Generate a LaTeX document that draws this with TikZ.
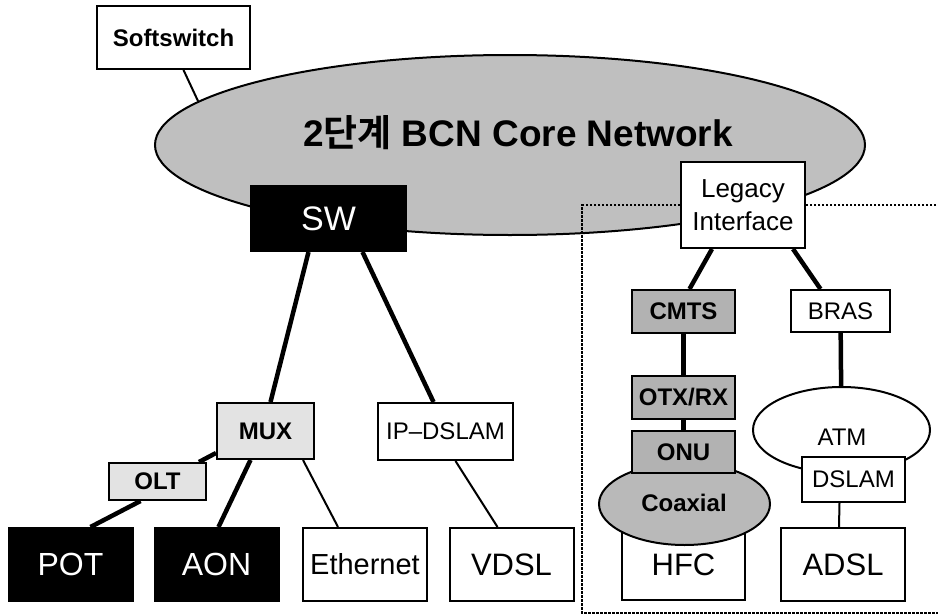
\documentclass[tikz,border=0pt]{standalone}
\usepackage{fontspec}
\setmainfont{Liberation Sans}
\newfontfamily\krfont{Noto Sans CJK KR}[BoldFont={Noto Sans CJK KR Bold}]
\usetikzlibrary{shapes.geometric, positioning, calc}
\tikzset{
  netbox/.style={
    rectangle, draw=black, line width=2pt, fill=white, inner sep=0pt,
    align=center
  },
  boxsize/.style 2 args={minimum width=#1pt, minimum height=#2pt},
  darkbox/.style={netbox, fill=black, text=white},
  lightbox/.style={netbox, fill=gray!22, font=\bfseries\fontsize{24}{28}\selectfont},
  graybox/.style={netbox, fill=gray!60, font=\bfseries\fontsize{24}{28}\selectfont},
  cloud/.style={ellipse, draw=black, line width=2pt, inner sep=0pt},
  thickedge/.style={line width=4.5pt},
  thinedge/.style={line width=2pt},
  boundary/.style={line width=2.5pt, dash pattern=on 2.5pt off 1.5pt}
}

\begin{document}
\begin{tikzpicture}[
    x=1pt, y=-1pt,
    every node/.style={font=\fontsize{24}{28}\selectfont},
    endbox/.style={netbox, boxsize={124}{73}, font=\fontsize{31}{34}\selectfont}
    ]
    \useasboundingbox (0,0) rectangle (938,616);

    % Core network
    \node[cloud, fill=gray!50, boxsize={710}{180}] (core) at (510,145) {};
    \node[font=\bfseries\fontsize{37}{40}\selectfont] (coretitle) at (518,133)
      {2{\krfont 단계} BCN Core Network};
    \node[netbox, boxsize={153}{63}, font=\bfseries\fontsize{24}{28}\selectfont] (soft) at (173.5,37.5) {Softswitch};
    \draw[thinedge] ([xshift=10pt]soft.south) -- (core.172);

    % Legacy access area
    \draw[boundary] (940,205) -- (582,205) -- (582,613) -- (940,613);

    % IP side
    \node[darkbox, boxsize={155}{65}, font=\fontsize{34}{36}\selectfont] (sw) at (328.5,218.5) {SW};
    \node[lightbox, boxsize={97}{56}] (mux) at (265.5,431) {MUX};
    \node[lightbox, boxsize={97}{37}] (olt) at (157.5,481.5) {OLT};
    \node[netbox, boxsize={135}{57}] (ipdslam) at (445.5,431.5) {IP--DSLAM};
    \node[endbox, darkbox, font=\fontsize{32}{34}\selectfont] (pot) at (70.5,564.5) {POT};
    \node[endbox, darkbox, font=\fontsize{32}{34}\selectfont] (aon) at (216.5,564.5) {AON};
    \node[endbox, font=\fontsize{29}{32}\selectfont] (ethernet) at (365,564.5) {Ethernet};
    \node[endbox] (vdsl) at (511.5,564.5) {VDSL};

    \draw[thickedge] ([xshift=-20pt]sw.south) -- ([xshift=5pt]mux.north);
    \draw[thickedge] ([xshift=34pt]sw.south) -- ([xshift=-12pt]ipdslam.north);
    \draw[thickedge] ([yshift=7pt]mux.south west) -- ([xshift=-8pt]olt.north east);
    \draw[thickedge] ([xshift=-17pt]olt.south) -- ([xshift=20pt]pot.north);
    \draw[thickedge] ([xshift=-15pt]mux.south) -- ([xshift=2pt]aon.north);
    \draw[thinedge] ([xshift=-12pt]mux.south east) -- ([xshift=-27pt]ethernet.north);
    \draw[thinedge] ([xshift=10pt]ipdslam.south) -- ([xshift=-14pt]vdsl.north);

    % Legacy side
    \node[netbox, boxsize={124}{86}, font=\fontsize{26}{33}\selectfont] (legacy) at (743,205) {Legacy\\Interface};
    \node[graybox, boxsize={103}{43}] (cmts) at (683.5,311.5) {CMTS};
    \node[graybox, boxsize={103}{43}] (otxrx) at (683.5,397.5) {OTX/RX};
    \node[netbox, boxsize={123}{70}, font=\fontsize{31}{34}\selectfont] (hfc) at (683.5,565) {HFC};
    \node[cloud, fill=gray!55, boxsize={171}{82}] (coax) at (684.5,504) {};
    \node[graybox, boxsize={103}{42}] (onu) at (683.5,452) {ONU};
    \node[font=\bfseries\fontsize{24}{28}\selectfont] (coaxlabel) at (684,503) {Coaxial};
    \node[netbox, boxsize={99}{42}] (bras) at (840.5,311) {BRAS};
    \node[cloud, fill=white, boxsize={177}{86}] (atm) at (841.5,430) {};
    \node (atmlabel) at (842,437) {ATM};
    \node[netbox, boxsize={103}{45}] (dslam) at (853.5,479.5) {DSLAM};
    \node[endbox] (adsl) at (843,564.5) {ADSL};

    \draw[thickedge] ([xshift=-31pt]legacy.south) -- ([xshift=6pt]cmts.north);
    \draw[thickedge] ([xshift=50pt]legacy.south) -- ([xshift=-20pt]bras.north);
    \draw[thickedge] (cmts) -- (otxrx);
    \draw[thickedge] (otxrx) -- (onu);
    \draw[thickedge] (bras) -- (atm);
    \draw[thinedge] ([xshift=-14pt]dslam.south) -- ([xshift=-4pt]adsl.north);

\end{tikzpicture}
\end{document}
